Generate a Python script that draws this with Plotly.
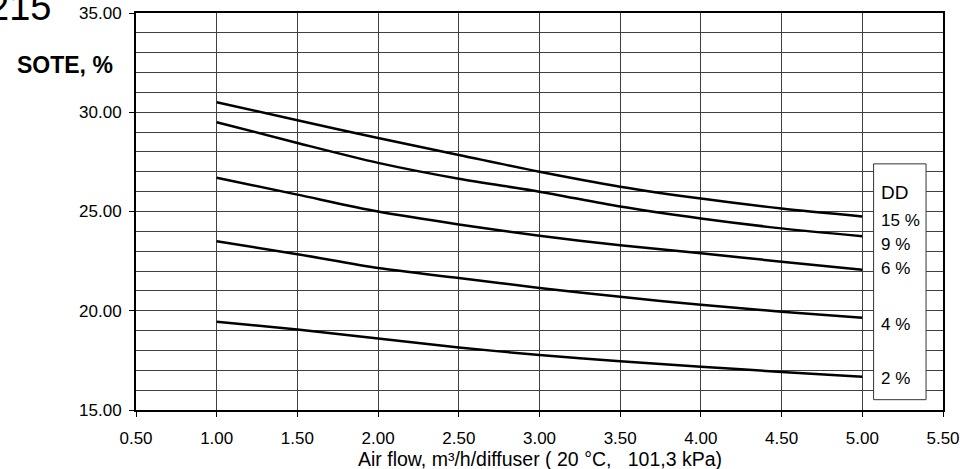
import plotly.graph_objects as go

# ---- data ----
air_flow = [1.0, 1.5, 2.0, 2.5, 3.0, 3.5, 4.0, 4.5, 5.0]
dd_labels = ["15 %", "9 %", "6 %", "4 %", "2 %"]
sote_15 = [30.5, 29.6, 28.7, 27.85, 27.0, 26.25, 25.65, 25.15, 24.75]
sote_9 = [29.5, 28.45, 27.45, 26.65, 26.0, 25.25, 24.65, 24.15, 23.75]
sote_6 = [26.7, 25.85, 25.0, 24.35, 23.78, 23.3, 22.9, 22.47, 22.07]
sote_4 = [23.5, 22.85, 22.15, 21.65, 21.15, 20.7, 20.3, 19.95, 19.65]
sote_2 = [19.45, 19.05, 18.6, 18.15, 17.77, 17.45, 17.18, 16.92, 16.68]
series = [sote_15, sote_9, sote_6, sote_4, sote_2]

x_ticks = [0.5, 1.0, 1.5, 2.0, 2.5, 3.0, 3.5, 4.0, 4.5, 5.0, 5.5]
y_ticks = [15, 20, 25, 30, 35]
label_y = [24.55, 23.33, 22.15, 19.30, 16.57]

FONT = "Liberation Sans, Arial, sans-serif"

fig = go.Figure()
for name, vals in zip(dd_labels, series):
    fig.add_trace(go.Scatter(
        x=air_flow, y=vals, mode="lines", name=name,
        line=dict(color="black", width=2.5, shape="spline", smoothing=0.8),
        showlegend=False, hoverinfo="skip"))

# legend box
fig.add_shape(type="rect", xref="x", yref="y", x0=5.07, x1=5.395, y0=15.52, y1=27.4,
              line=dict(color="#333333", width=1), fillcolor="white", layer="above")
fig.add_annotation(x=5.103, y=25.96, xref="x", yref="y", text="DD", showarrow=False,
                   xanchor="left", yanchor="middle", font=dict(family=FONT, size=19, color="black"))
for lab, ly in zip(dd_labels, label_y):
    fig.add_annotation(x=5.103, y=ly, xref="x", yref="y", text=lab, showarrow=False,
                       xanchor="left", yanchor="middle", font=dict(family=FONT, size=17, color="black"))

# y title, x title and figure number
fig.add_annotation(x=-0.026, y=0.87, xref="paper", yref="paper",
                   text="<b>SOTE, %</b>", showarrow=False, xanchor="right", yanchor="middle",
                   font=dict(family=FONT, size=23, color="black"))
fig.add_annotation(x=0.5, y=-0.1234, xref="paper", yref="paper",
                   text="Air flow, m³/h/diffuser ( 20 °C,   101,3 kPa)",
                   showarrow=False, xanchor="center", yanchor="middle",
                   font=dict(family=FONT, size=19.5, color="black"))
fig.add_annotation(x=-0.103, y=1.016, xref="paper", yref="paper", text="215", showarrow=False,
                   xanchor="right", yanchor="middle", font=dict(family=FONT, size=38, color="black"))

fig.update_xaxes(
    range=[0.5, 5.5], tickvals=x_ticks, ticktext=[f"{v:.2f}" for v in x_ticks],
    showgrid=True, gridcolor="#404040", gridwidth=1,
    showline=True, linecolor="black", linewidth=2, mirror=True,
    ticks="outside", ticklen=5, tickcolor="black", tickwidth=1,
    ticklabelstandoff=7, automargin=False,
    tickfont=dict(family=FONT, size=17, color="black"),
    zeroline=False)
fig.update_yaxes(
    range=[15, 35], tickvals=y_ticks, ticktext=[f"{v:.2f}" for v in y_ticks],
    showgrid=True, gridcolor="#404040", gridwidth=1,
    minor=dict(dtick=1, showgrid=True, gridcolor="#404040", gridwidth=1, ticks=""),
    showline=True, linecolor="black", linewidth=2, mirror=True,
    ticks="outside", ticklen=5, tickcolor="black", tickwidth=1,
    ticklabelstandoff=4, automargin=False,
    tickfont=dict(family=FONT, size=17, color="black"),
    zeroline=False)

fig.update_layout(
    width=967, height=469,
    margin=dict(l=136, r=24, t=13, b=59, autoexpand=False),
    paper_bgcolor="white", plot_bgcolor="white",
    font=dict(family=FONT, color="black"),
)

fig.write_html("out.html", config={"displayModeBar": False},
               post_script="document.body.style.margin='0';document.body.style.overflow='hidden';")
